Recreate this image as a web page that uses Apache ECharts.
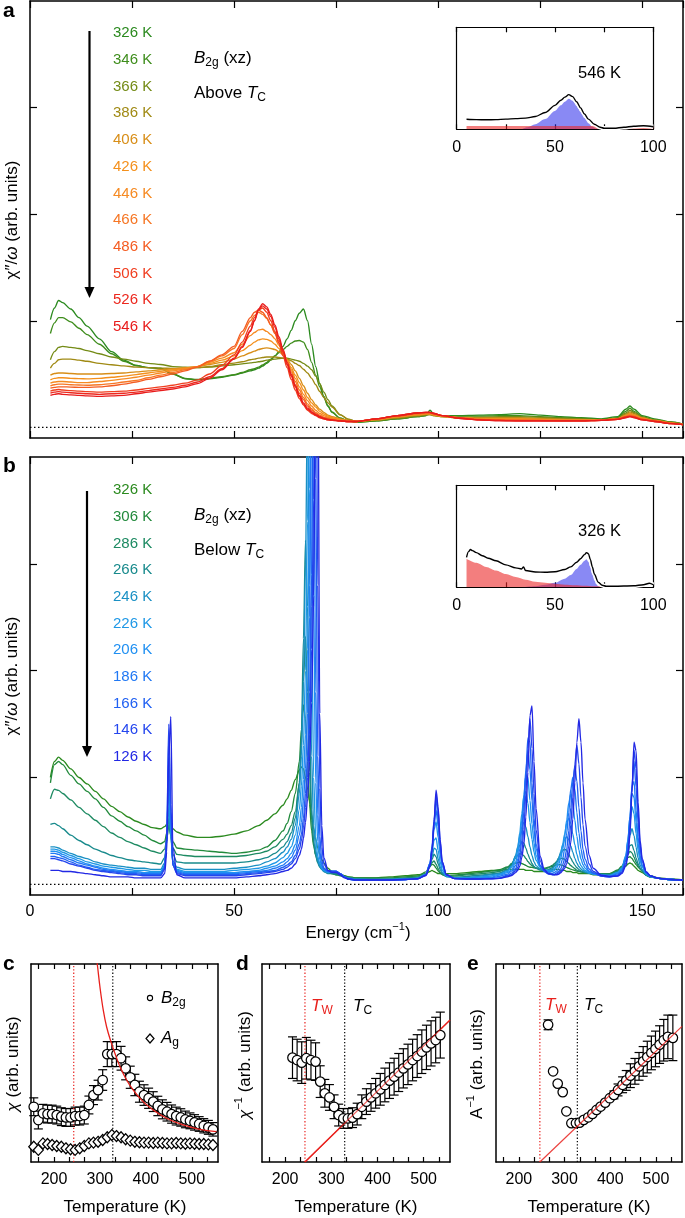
<!DOCTYPE html>
<html><head><meta charset="utf-8">
<script src="https://cdn.jsdelivr.net/npm/echarts@6/dist/echarts.min.js"></script>
<style>html,body{margin:0;padding:0;background:#fff}#c{width:685px;height:1218px}</style>
</head><body><div id="c"></div>
<script>
// ---------------- DATA ----------------
const tempsA = [326,346,366,386,406,426,446,466,486,506,526,546];
const colorsA = ['#2b8a1f','#3e8d1c','#748b16','#a08a14','#d88e18','#f4901c','#f68a22','#f67624','#f45c22','#f03e20','#ec281e','#e81c1c'];
const energyA = [5,6,7,8,10,12,14,17,20,23,26,29,32,35,38,41,44,47,50,
 52,54,55,56,57,58,59,60,61,62,63,64,65,66,67,68,69,70,71,72,73,74,76,78,
 80,85,90,95,97,98,99,101,105,110,115,120,125,130,135,140,144,146,147,148,150,153,157,160];
const a326 = [1.01,1.12,1.19,1.17,1.11,1.03,0.95,0.83,0.71,0.63,0.58,0.56,0.555,0.50,0.455,0.445,0.455,0.47,0.49,
 0.51,0.53,0.54,0.555,0.575,0.60,0.63,0.67,0.71,0.76,0.83,0.91,1.00,1.07,1.11,1.00,0.78,0.57,0.41,0.29,0.20,0.14,0.085,0.06,
 0.05,0.06,0.08,0.10,0.11,0.16,0.12,0.11,0.11,0.115,0.12,0.128,0.115,0.10,0.09,0.08,0.10,0.17,0.20,0.17,0.11,0.08,0.05,0.03];
const a346 = [0.88,0.98,1.03,1.03,0.99,0.93,0.87,0.78,0.69,0.62,0.58,0.56,0.55,0.50,0.46,0.45,0.46,0.475,0.495,
 0.515,0.54,0.55,0.565,0.585,0.61,0.64,0.67,0.70,0.73,0.76,0.79,0.81,0.815,0.80,0.73,0.61,0.49,0.38,0.28,0.20,0.145,0.085,0.06,
 0.05,0.06,0.08,0.10,0.11,0.14,0.115,0.105,0.105,0.105,0.11,0.11,0.10,0.09,0.085,0.075,0.09,0.15,0.18,0.15,0.10,0.07,0.05,0.03];
const a366 = [0.634,0.71,0.75,0.76,0.75,0.74,0.72,0.69,0.66,0.64,0.62,0.60,0.59,0.57,0.565,0.56,0.565,0.577,0.587,
 0.596,0.605,0.61,0.615,0.62,0.63,0.634,0.64,0.646,0.65,0.648,0.64,0.63,0.62,0.60,0.575,0.54,0.48,0.41,0.33,0.26,0.20,0.12,0.075,
 0.055,0.065,0.085,0.105,0.115,0.12,0.11,0.10,0.095,0.095,0.10,0.10,0.095,0.085,0.08,0.07,0.085,0.135,0.16,0.14,0.095,0.07,0.045,0.03];
const a386 = [0.556,0.60,0.634,0.64,0.64,0.63,0.62,0.60,0.587,0.577,0.565,0.56,0.556,0.553,0.553,0.56,0.571,0.587,0.603,
 0.615,0.634,0.64,0.65,0.655,0.66,0.66,0.66,0.655,0.65,0.64,0.625,0.60,0.58,0.545,0.51,0.46,0.40,0.336,0.28,0.23,0.19,0.117,0.076,
 0.055,0.07,0.09,0.11,0.12,0.12,0.11,0.10,0.09,0.09,0.09,0.09,0.085,0.08,0.075,0.07,0.08,0.125,0.145,0.13,0.09,0.065,0.045,0.03];
const a406 = [0.49,0.505,0.51,0.51,0.505,0.50,0.50,0.50,0.505,0.51,0.52,0.53,0.54,0.55,0.56,0.57,0.59,0.61,0.64,
 0.67,0.70,0.715,0.73,0.74,0.745,0.74,0.73,0.71,0.68,0.64,0.59,0.53,0.46,0.39,0.32,0.26,0.21,0.17,0.14,0.115,0.10,0.08,0.065,
 0.055,0.07,0.095,0.115,0.125,0.125,0.115,0.10,0.09,0.085,0.085,0.085,0.08,0.075,0.07,0.07,0.08,0.115,0.135,0.12,0.085,0.065,0.04,0.025];
const a426 = [0.446,0.46,0.465,0.465,0.46,0.457,0.455,0.46,0.47,0.48,0.495,0.51,0.525,0.54,0.555,0.57,0.60,0.63,0.67,
 0.72,0.77,0.80,0.82,0.83,0.825,0.81,0.78,0.74,0.69,0.63,0.56,0.49,0.42,0.35,0.28,0.23,0.19,0.15,0.125,0.105,0.09,0.075,0.06,
 0.055,0.075,0.10,0.12,0.13,0.13,0.12,0.105,0.09,0.08,0.08,0.08,0.075,0.07,0.07,0.07,0.08,0.11,0.125,0.115,0.085,0.06,0.04,0.025];
const a446 = [0.415,0.425,0.43,0.43,0.425,0.42,0.42,0.43,0.44,0.455,0.47,0.49,0.51,0.53,0.55,0.57,0.61,0.65,0.70,
 0.78,0.86,0.89,0.915,0.92,0.90,0.87,0.83,0.77,0.70,0.62,0.54,0.46,0.38,0.31,0.25,0.20,0.16,0.13,0.11,0.095,0.085,0.07,0.06,
 0.055,0.075,0.10,0.125,0.13,0.13,0.12,0.105,0.09,0.08,0.075,0.075,0.07,0.07,0.065,0.07,0.08,0.105,0.12,0.11,0.08,0.06,0.04,0.025];
const a466 = [0.39,0.40,0.405,0.405,0.40,0.397,0.395,0.40,0.41,0.425,0.44,0.465,0.49,0.515,0.54,0.57,0.62,0.67,0.74,
 0.87,1.00,1.05,1.08,1.06,1.02,0.96,0.89,0.81,0.72,0.62,0.52,0.43,0.35,0.28,0.22,0.175,0.14,0.115,0.095,0.085,0.075,0.065,0.055,
 0.055,0.08,0.105,0.13,0.135,0.135,0.125,0.11,0.09,0.075,0.07,0.07,0.065,0.065,0.065,0.07,0.08,0.10,0.115,0.105,0.08,0.06,0.04,0.025];
const a486 = [0.368,0.375,0.38,0.38,0.378,0.375,0.375,0.38,0.39,0.405,0.425,0.45,0.475,0.50,0.53,0.565,0.62,0.68,0.76,
 0.90,1.03,1.08,1.10,1.08,1.03,0.96,0.88,0.79,0.69,0.59,0.49,0.40,0.32,0.26,0.20,0.16,0.13,0.105,0.09,0.08,0.07,0.06,0.055,
 0.055,0.08,0.105,0.13,0.135,0.135,0.125,0.11,0.09,0.075,0.07,0.065,0.065,0.06,0.06,0.065,0.08,0.10,0.11,0.10,0.075,0.06,0.04,0.025];
const a506 = [0.34,0.35,0.355,0.35,0.345,0.34,0.335,0.33,0.335,0.34,0.35,0.365,0.38,0.395,0.415,0.445,0.50,0.58,0.68,
 0.80,0.95,1.03,1.10,1.12,1.08,1.00,0.90,0.79,0.67,0.56,0.45,0.35,0.27,0.21,0.16,0.13,0.11,0.09,0.08,0.07,0.065,0.06,0.055,
 0.055,0.08,0.11,0.135,0.14,0.14,0.13,0.11,0.085,0.07,0.065,0.06,0.06,0.06,0.06,0.065,0.075,0.095,0.105,0.095,0.075,0.055,0.035,0.025];
const a526 = [0.32,0.33,0.335,0.33,0.325,0.32,0.315,0.31,0.315,0.32,0.33,0.345,0.36,0.375,0.395,0.425,0.475,0.55,0.65,
 0.76,0.91,1.00,1.10,1.14,1.11,1.04,0.94,0.83,0.71,0.59,0.48,0.38,0.29,0.22,0.17,0.14,0.115,0.095,0.08,0.07,0.065,0.06,0.055,
 0.055,0.08,0.11,0.135,0.14,0.14,0.13,0.11,0.085,0.07,0.065,0.06,0.06,0.06,0.06,0.065,0.075,0.095,0.10,0.095,0.07,0.055,0.035,0.025];
const a546 = [0.30,0.31,0.315,0.31,0.305,0.30,0.295,0.29,0.295,0.30,0.315,0.33,0.345,0.36,0.38,0.41,0.46,0.54,0.64,
 0.75,0.90,1.00,1.11,1.16,1.13,1.06,0.96,0.85,0.73,0.61,0.50,0.39,0.30,0.23,0.18,0.145,0.12,0.10,0.085,0.075,0.07,0.06,0.055,
 0.055,0.08,0.11,0.135,0.14,0.14,0.13,0.11,0.085,0.07,0.06,0.06,0.06,0.06,0.06,0.065,0.075,0.09,0.10,0.09,0.07,0.055,0.035,0.025];

const tempsB = [326,306,286,266,246,226,206,186,166,146,126];
const colorsB = ['#2b8a1f','#228a3c','#1d8a62','#188a8c','#1a90c4','#1f98e6','#2090f2','#2078f4','#2060f2','#2446ee','#2228e4'];
const energyB = [5,6,7,8,10,12,14,16,18,20,22,24,26,28,30,32,
 33,33.5,34,34.5,35,36,
 38,41,44,47,50,53,56,58,60,62,
 63,64,65,66,66.5,67,67.5,68,68.5,69,69.5,70,70.5,71,71.5,72,73,74,75,76,77,78,
 80,84,88,92,95,97,
 98,98.5,99,99.5,100,100.5,101,102,
 104,107,110,113,115,117,
 118,119,119.5,120,120.5,121,121.5,122,122.5,123,123.5,124,125,126,
 127,128,128.5,129,129.5,130,130.5,131,131.5,132,132.5,133,133.5,134,134.5,135,135.5,136,137,138,
 140,142,144,145,
 146,146.5,147,147.5,148,148.5,149,149.5,150,
 151,152,154,157,160];
const b326 = [1.00,1.15,1.19,1.16,1.08,1.00,0.94,0.87,0.80,0.73,0.68,0.63,0.59,0.56,0.53,0.52,
 0.54,0.56,0.57,0.56,0.52,0.49,
 0.46,0.44,0.44,0.45,0.47,0.50,0.55,0.60,0.66,0.74,
 0.80,0.88,0.98,1.07,1.10,1.08,1.00,0.90,0.78,0.65,0.52,0.42,0.34,0.28,0.23,0.20,0.15,0.12,0.10,0.09,0.08,0.07,
 0.06,0.06,0.07,0.08,0.09,0.10,
 0.12,0.13,0.12,0.11,0.10,0.10,0.10,0.10,
 0.10,0.11,0.12,0.13,0.13,0.14,
 0.14,0.14,0.14,0.14,0.14,0.14,0.13,0.13,0.13,0.13,0.12,0.12,0.12,0.12,
 0.13,0.14,0.14,0.14,0.14,0.13,0.13,0.13,0.12,0.12,0.12,0.11,0.11,0.11,0.10,0.10,0.10,0.10,0.10,0.09,
 0.09,0.10,0.12,0.14,
 0.17,0.19,0.20,0.19,0.17,0.15,0.13,0.12,0.11,
 0.09,0.08,0.06,0.05,0.04];
const b306 = [0.95,1.12,1.15,1.12,1.02,0.94,0.87,0.80,0.72,0.64,0.59,0.54,0.50,0.46,0.41,0.38,
 0.40,0.48,0.55,0.50,0.40,0.34,
 0.33,0.32,0.31,0.30,0.29,0.30,0.32,0.35,0.41,0.50,
 0.57,0.68,0.85,1.15,1.45,1.68,1.55,1.15,0.75,0.50,0.36,0.28,0.23,0.19,0.17,0.15,0.12,0.10,0.09,0.09,0.08,0.07,
 0.06,0.06,0.06,0.07,0.078,0.116,
 0.168,0.189,0.179,0.152,0.125,0.104,0.092,0.08,
 0.086,0.097,0.11,0.123,0.136,0.162,
 0.183,0.2,0.205,0.203,0.195,0.187,0.177,0.166,0.16,0.159,0.155,0.15,0.147,0.15,
 0.16,0.168,0.177,0.182,0.185,0.182,0.177,0.168,0.158,0.15,0.142,0.135,0.129,0.123,0.119,0.116,0.113,0.111,0.108,0.105,
 0.1,0.1,0.134,0.17,
 0.225,0.251,0.258,0.242,0.213,0.185,0.162,0.142,0.125,
 0.085,0.07,0.055,0.045,0.04];
const b286 = [0.80,0.89,0.88,0.85,0.79,0.72,0.66,0.60,0.54,0.48,0.44,0.40,0.37,0.34,0.31,0.29,
 0.33,0.42,0.55,0.46,0.34,0.28,
 0.27,0.26,0.26,0.26,0.26,0.27,0.29,0.31,0.35,0.42,
 0.47,0.55,0.68,0.95,1.30,1.90,2.32,1.80,1.05,0.60,0.38,0.27,0.21,0.17,0.15,0.13,0.11,0.10,0.09,0.08,0.07,0.06,
 0.05,0.05,0.05,0.06,0.068,0.099,
 0.162,0.204,0.218,0.188,0.146,0.114,0.092,0.074,
 0.077,0.088,0.098,0.109,0.121,0.155,
 0.195,0.246,0.271,0.286,0.284,0.267,0.242,0.214,0.191,0.176,0.161,0.153,0.143,0.143,
 0.155,0.178,0.193,0.21,0.23,0.242,0.243,0.233,0.215,0.195,0.176,0.161,0.146,0.133,0.125,0.118,0.114,0.111,0.105,0.102,
 0.097,0.095,0.125,0.162,
 0.237,0.28,0.308,0.295,0.254,0.21,0.172,0.147,0.125,
 0.085,0.07,0.055,0.045,0.04];
const b266 = [0.56,0.57,0.55,0.52,0.46,0.41,0.37,0.33,0.30,0.27,0.25,0.23,0.22,0.21,0.20,0.19,
 0.25,0.40,0.62,0.45,0.28,0.21,
 0.20,0.20,0.20,0.20,0.20,0.21,0.23,0.25,0.29,0.35,
 0.40,0.48,0.62,0.95,1.40,2.30,3.22,2.60,1.40,0.70,0.40,0.27,0.20,0.16,0.14,0.12,0.10,0.10,0.10,0.09,0.07,0.06,
 0.05,0.045,0.045,0.055,0.063,0.094,
 0.17,0.232,0.283,0.257,0.193,0.138,0.103,0.073,
 0.065,0.075,0.085,0.097,0.106,0.137,
 0.183,0.264,0.318,0.366,0.397,0.385,0.338,0.282,0.236,0.195,0.168,0.15,0.134,0.129,
 0.138,0.155,0.179,0.21,0.244,0.282,0.316,0.33,0.316,0.282,0.244,0.21,0.179,0.155,0.138,0.126,0.119,0.112,0.103,0.1,
 0.093,0.09,0.116,0.148,
 0.235,0.302,0.364,0.371,0.316,0.247,0.19,0.152,0.125,
 0.085,0.07,0.055,0.045,0.04];
const b246 = [0.35,0.35,0.34,0.32,0.29,0.26,0.24,0.21,0.19,0.18,0.17,0.16,0.15,0.15,0.14,0.14,
 0.20,0.40,0.72,0.45,0.22,0.16,
 0.14,0.14,0.14,0.14,0.15,0.16,0.18,0.21,0.24,0.30,
 0.35,0.42,0.55,0.85,1.20,1.90,3.00,4.60,2.80,1.20,0.55,0.32,0.22,0.17,0.14,0.12,0.11,0.12,0.12,0.10,0.07,0.06,
 0.05,0.045,0.045,0.05,0.058,0.092,
 0.179,0.257,0.338,0.326,0.239,0.164,0.113,0.073,
 0.06,0.065,0.075,0.09,0.1,0.13,
 0.17,0.27,0.35,0.445,0.535,0.58,0.535,0.445,0.35,0.27,0.21,0.175,0.143,0.13,
 0.132,0.143,0.164,0.197,0.243,0.3,0.36,0.42,0.445,0.42,0.36,0.3,0.243,0.197,0.164,0.143,0.13,0.117,0.104,0.098,
 0.09,0.085,0.111,0.146,
 0.246,0.346,0.455,0.52,0.455,0.346,0.246,0.181,0.14,
 0.09,0.07,0.055,0.045,0.04];
const b226 = [0.33,0.33,0.32,0.30,0.27,0.24,0.21,0.19,0.17,0.16,0.15,0.14,0.13,0.13,0.12,0.12,
 0.18,0.40,0.88,0.50,0.20,0.14,
 0.12,0.12,0.12,0.12,0.13,0.14,0.15,0.17,0.20,0.25,
 0.29,0.35,0.46,0.70,0.92,1.30,2.00,3.40,5.20,2.60,1.00,0.45,0.26,0.19,0.15,0.13,0.11,0.12,0.12,0.10,0.07,0.05,
 0.04,0.04,0.045,0.05,0.058,0.096,
 0.19,0.294,0.414,0.434,0.318,0.21,0.134,0.08,
 0.058,0.06,0.068,0.078,0.093,0.12,
 0.16,0.25,0.34,0.48,0.66,0.82,0.87,0.76,0.58,0.42,0.3,0.225,0.16,0.137,
 0.127,0.13,0.145,0.17,0.21,0.28,0.37,0.47,0.57,0.62,0.57,0.47,0.37,0.28,0.215,0.175,0.148,0.129,0.107,0.097,
 0.086,0.08,0.111,0.153,
 0.271,0.41,0.588,0.727,0.661,0.476,0.318,0.219,0.163,
 0.1,0.075,0.055,0.045,0.04];
const b206 = [0.31,0.31,0.30,0.28,0.25,0.22,0.19,0.17,0.15,0.14,0.13,0.12,0.12,0.11,0.11,0.11,
 0.17,0.42,1.02,0.55,0.19,0.13,
 0.11,0.11,0.11,0.11,0.11,0.12,0.13,0.15,0.17,0.21,
 0.24,0.29,0.37,0.55,0.72,0.98,1.40,2.20,3.70,5.80,2.60,0.95,0.40,0.23,0.16,0.14,0.12,0.12,0.12,0.10,0.07,0.05,
 0.04,0.04,0.04,0.045,0.054,0.093,
 0.199,0.335,0.512,0.584,0.441,0.276,0.166,0.084,
 0.053,0.055,0.06,0.068,0.086,0.11,
 0.135,0.21,0.285,0.415,0.6,0.835,1.02,1.0,0.785,0.565,0.385,0.27,0.165,0.134,
 0.12,0.12,0.13,0.152,0.183,0.237,0.32,0.45,0.6,0.76,0.845,0.76,0.6,0.45,0.32,0.237,0.183,0.152,0.115,0.098,
 0.082,0.078,0.107,0.143,
 0.264,0.421,0.63,0.848,0.815,0.582,0.381,0.244,0.17,
 0.1,0.075,0.055,0.045,0.04];
const b186 = [0.29,0.29,0.28,0.26,0.23,0.20,0.18,0.16,0.14,0.13,0.12,0.11,0.11,0.10,0.10,0.10,
 0.16,0.42,1.16,0.60,0.18,0.12,
 0.10,0.10,0.10,0.10,0.10,0.11,0.12,0.13,0.15,0.18,
 0.21,0.25,0.32,0.46,0.58,0.78,1.08,1.60,2.50,4.60,5.00,1.80,0.65,0.30,0.18,0.14,0.12,0.12,0.12,0.10,0.07,0.05,
 0.04,0.04,0.04,0.045,0.052,0.089,
 0.188,0.331,0.545,0.695,0.545,0.331,0.188,0.089,
 0.055,0.053,0.055,0.06,0.075,0.096,
 0.123,0.176,0.235,0.33,0.51,0.78,1.07,1.25,1.07,0.78,0.51,0.33,0.176,0.123,
 0.113,0.102,0.112,0.123,0.147,0.184,0.237,0.33,0.48,0.67,0.89,1.0,0.89,0.67,0.48,0.33,0.237,0.184,0.123,0.102,
 0.08,0.074,0.098,0.13,
 0.247,0.396,0.637,0.916,0.963,0.693,0.442,0.265,0.18,
 0.105,0.075,0.055,0.045,0.04];
const b166 = [0.26,0.26,0.25,0.24,0.21,0.18,0.16,0.14,0.13,0.12,0.11,0.10,0.10,0.09,0.09,0.09,
 0.15,0.45,1.38,0.68,0.18,0.11,
 0.09,0.09,0.09,0.09,0.09,0.10,0.11,0.12,0.13,0.16,
 0.18,0.21,0.27,0.38,0.47,0.62,0.85,1.20,1.80,2.90,5.50,3.80,1.20,0.45,0.22,0.15,0.12,0.12,0.12,0.10,0.07,0.05,
 0.04,0.04,0.04,0.045,0.053,0.089,
 0.195,0.355,0.605,0.795,0.605,0.355,0.195,0.089,
 0.055,0.052,0.052,0.055,0.06,0.085,
 0.105,0.146,0.2,0.27,0.41,0.68,1.04,1.37,1.33,0.95,0.62,0.375,0.18,0.12,
 0.097,0.09,0.094,0.107,0.12,0.143,0.184,0.236,0.324,0.5,0.717,0.965,1.10,0.965,0.717,0.5,0.324,0.236,0.143,0.107,
 0.077,0.07,0.089,0.119,
 0.217,0.331,0.58,0.911,1.15,0.911,0.58,0.331,0.21,
 0.11,0.079,0.055,0.045,0.04];
const b146 = [0.24,0.24,0.23,0.22,0.19,0.17,0.15,0.13,0.12,0.11,0.10,0.09,0.09,0.08,0.08,0.08,
 0.14,0.45,1.50,0.75,0.18,0.10,
 0.08,0.08,0.08,0.08,0.08,0.09,0.10,0.11,0.12,0.14,
 0.16,0.19,0.24,0.33,0.41,0.53,0.72,1.00,1.45,2.20,3.60,6.50,2.80,0.90,0.35,0.19,0.13,0.12,0.12,0.10,0.07,0.05,
 0.04,0.04,0.04,0.045,0.052,0.083,
 0.167,0.304,0.563,0.843,0.693,0.401,0.207,0.09,
 0.053,0.05,0.05,0.052,0.056,0.076,
 0.09,0.127,0.157,0.22,0.31,0.51,0.85,1.27,1.55,1.27,0.85,0.51,0.22,0.127,
 0.1,0.092,0.09,0.095,0.106,0.122,0.142,0.19,0.246,0.358,0.556,0.816,1.126,1.30,1.126,0.816,0.556,0.358,0.19,0.122,
 0.077,0.068,0.08,0.111,
 0.194,0.298,0.536,0.902,1.256,1.085,0.67,0.365,0.225,
 0.116,0.079,0.056,0.045,0.04];
const b126 = [0.13,0.13,0.13,0.12,0.12,0.11,0.10,0.09,0.08,0.07,0.07,0.07,0.06,0.06,0.06,0.06,
 0.10,0.30,1.20,1.57,0.35,0.09,
 0.06,0.06,0.06,0.06,0.06,0.07,0.08,0.09,0.10,0.12,
 0.13,0.15,0.19,0.27,0.33,0.43,0.58,0.80,1.15,1.70,2.70,5.00,5.50,1.60,0.55,0.25,0.13,0.11,0.11,0.09,0.06,0.05,
 0.04,0.04,0.04,0.045,0.052,0.085,
 0.173,0.317,0.589,0.882,0.725,0.419,0.215,0.092,
 0.053,0.05,0.05,0.052,0.055,0.07,
 0.083,0.11,0.13,0.17,0.25,0.37,0.63,1.05,1.58,1.67,1.15,0.71,0.26,0.14,
 0.1,0.093,0.09,0.09,0.094,0.108,0.127,0.15,0.194,0.27,0.39,0.61,0.95,1.33,1.55,1.33,0.95,0.61,0.27,0.15,
 0.085,0.075,0.076,0.1,
 0.174,0.26,0.46,0.86,1.33,1.25,0.77,0.41,0.24,
 0.115,0.079,0.057,0.045,0.04];

// insets
const insA_E = [5,10,15,20,25,30,35,40,45,50,53,55,57,59,61,63,65,67,70,73,75,80,85,90,95,100];
const insA_total = [0.098,0.095,0.093,0.095,0.10,0.105,0.11,0.125,0.165,0.235,0.285,0.315,0.34,0.32,0.27,0.21,0.15,0.10,0.05,0.02,0.01,0.01,0.02,0.03,0.035,0.025];
const insA_blueE = [33,36,40,45,50,53,55,57,59,61,63,65,67,69,71,72];
const insA_blue = [0,0.02,0.05,0.10,0.18,0.235,0.27,0.30,0.28,0.23,0.17,0.11,0.06,0.025,0.005,0];
const insA_redE = [5,100];
const insA_red = [0.032,0.032];
const insB_E = [5,6,7,8,10,13,16,20,25,30,33,34,35,40,45,50,55,58,61,63,65,66,67,68,69,70,72,74,76,80,90,95,98,100];
const insB_total = [0.294,0.35,0.37,0.36,0.34,0.31,0.285,0.26,0.22,0.19,0.18,0.20,0.165,0.15,0.148,0.152,0.175,0.20,0.245,0.28,0.32,0.34,0.33,0.27,0.20,0.13,0.05,0.02,0.01,0.01,0.015,0.025,0.04,0.025];
const insB_redE = [5,10,15,20,25,30,35,40,45,50,55,60,65,70,80,100];
const insB_red = [0.28,0.24,0.20,0.165,0.13,0.10,0.075,0.055,0.045,0.035,0.025,0.02,0.015,0.01,0.005,0.002];
const insB_blueE = [33,40,45,50,55,58,61,63,65,66,67,68,69,70,71,72,73];
const insB_blue = [0,0.01,0.025,0.045,0.085,0.12,0.18,0.22,0.26,0.275,0.25,0.20,0.13,0.07,0.03,0.01,0];

// panel c
const cTemps = [156,166,176,186,196,206,216,226,236,246,256,266,276,286,296,306,316,326,336,346,356,366,376,386,396,406,416,426,436,446,456,466,476,486,496,506,516,526,536,546];
const cB2g = [27.9,21.2,24.6,24.2,24.2,23.7,22.9,22.5,22.5,23.2,23.2,23.7,28.8,33.8,36.3,41.4,54.5,54.5,54.5,52.4,47.3,42.8,38.9,35.5,33.8,32.2,30.5,28.3,26.6,25.4,24.2,23.2,22.5,21.5,20.8,20.0,19.2,18.3,17.5,16.5];
const cB2gErr = [4.5,4.5,4.5,4.5,4.5,4.5,4.5,4.5,4.5,4.5,4.5,4.5,4.5,4.8,5,5.2,6.3,6.3,6.3,6,5.8,5.6,5.4,5.3,5.2,5.1,5,4.9,4.8,4.7,4.6,4.5,4.4,4.2,4.0,3.9,3.7,3.6,3.5,3.4];
const cAg = [7.7,6.1,9.4,9.1,8.6,8.1,7.7,6.9,6.4,6.1,6.9,8.1,9.4,9.8,10.2,11.1,12.5,13.6,13.1,12.5,11.5,10.8,10.2,10.0,9.8,9.8,9.6,9.8,9.6,9.4,9.4,9.6,9.4,9.2,9.4,9.2,9.1,9.1,8.9,8.6];
const cFitT = [292,294.2,300,307.2,314.5,323.9,332.6,343.5,358,372.4,394.1,415.9,445,481,517.4,553.7];
const cFitV = [103,100,88.5,76.8,68.3,60.8,54.9,48.2,41.4,36.4,30.5,26.3,22.1,18.7,16.5,15.3];
// panel d
const dTemps = [216,226,236,246,256,266,276,286,296,306,316,326,336,346,356,366,376,386,396,406,416,426,436,446,456,466,476,486,496,506,516,526,536];
const dVals = [52.7,51.5,50.2,52.4,51.5,50.7,40.6,34.7,32.6,27.9,23.7,22.0,22.0,22.4,24.2,27.9,30.5,32.6,34.7,36.7,38.9,41.1,43.1,45.2,47.3,49.3,51.5,53.5,55.7,57.9,59.9,61.6,64.1];
const dErr = [10.5,10.5,10.5,10.5,10,9.5,8,7,6.5,6,5.5,5,5,5,5.5,6,6.5,7,7.5,8,8.5,9,9.3,9.6,9.9,10.2,10.5,10.8,11,11.2,11.4,11.5,11.6];
const dFitT = [243,557];
const dFitV = [0,71.7];
// panel e
const eTemps = [264,275,285,296,304,315,325,333,342,352,361,370,379,389,399,408,417,427,435,444,454,463,472,481,490,499,508,517,526,537];
const eVals = [69.3,45.8,39.6,35.3,25.6,19.6,19.6,19.9,21.3,22.6,24.3,26.3,28.0,30.0,32.2,33.9,36.4,39.0,41.2,43.6,45.8,48.3,50.8,53.0,55.1,57.1,59.3,61.5,63.2,62.7];
const eErr = [2.5,0,0,0,0,0,0,0,0,0,0,0,0,0,0,2,3,4,5,6,6.5,7,7.5,8,8.5,9,9.5,10.5,11,11.5];
const eXErr = [5,0,0,0,0,0,0,0,0,0,0,0,0,0,0,0,0,0,0,0,0,0,0,0,0,0,0,0,0,0];
const eFitT = [246,557];
const eFitV = [0,68.5];
const tW = [243,243,246];
const tC = [328,329,328];

// ---------------- CHART ----------------
const FF = "'Liberation Sans', Arial, Helvetica, sans-serif";
const chart = echarts.init(document.getElementById('c'), null, {renderer:'canvas'});
const mctx = document.createElement('canvas').getContext('2d');
function tw(t, f){ mctx.font = f; return mctx.measureText(t).width; }
function runs(x, y, parts, anchor){
  const fonts = parts.map(p => (p[2]==='i'?'italic ':'') + (p[2]==='b'?'bold ':'') + p[1] + 'px ' + FF);
  const ws = parts.map((p,i)=>tw(p[0], fonts[i]));
  const tot = ws.reduce((a,b)=>a+b,0);
  let cx = anchor==='center' ? x - tot/2 : x;
  return parts.map((p,i)=>{
    const el = {type:'text', x:cx, y:y+(p[3]||0), silent:true,
      style:{text:p[0], font:fonts[i], fill:p[4]||'#000', textAlign:'left', textVerticalAlign:'middle', align:'left', verticalAlign:'middle'}};
    cx += ws[i]; return el;
  });
}
function rot(cx, cy, parts){ return {type:'group', x:cx, y:cy, rotation:Math.PI/2, children:runs(0,0,parts,'center')}; }

const grids = [
  {left:30, top:1, width:653, height:437},
  {left:456.7, top:27.3, width:196.6, height:102},
  {left:30, top:457, width:653, height:438},
  {left:456.7, top:485.3, width:196.6, height:102},
  {left:31, top:964, width:187, height:198},
  {left:262, top:964, width:188, height:198},
  {left:496, top:964, width:186, height:198}
].map(g=>Object.assign(g,{containLabel:false, outerBoundsMode:'none'}));

const xAxes = [], yAxes = [];
function ax(grid, pos, min, max, o){
  return Object.assign({
    type:'value', gridIndex:grid, position:pos, min:min, max:max,
    axisLine:{show:true, onZero:false, lineStyle:{color:'#000', width:o.lw||1.5}},
    axisTick:Object.assign({show:!!o.tick, inside:true, length:o.tl||7, lineStyle:{color:'#000', width:1.2}}, o.tick||{}),
    axisLabel:Object.assign({show:false, color:'#000', fontSize:o.fs||16, fontFamily:FF, margin:o.margin||9}, o.label||{}),
    splitLine:{show:false}, axisPointer:{show:false}, silent:true
  }, o.extra||{});
}
const fmt50 = v => (Math.abs(v % 50) < 1e-6 ? String(v) : '');
const tickTemps = [166.667,200,233.333,266.667,300,333.333,366.667,400,433.333,466.667,500,533.333];
xAxes.push(ax(0,'bottom',0,160,{tick:{}, extra:{interval:25}}));
xAxes.push(ax(0,'top',0,160,{tick:{}, extra:{interval:25}}));
yAxes.push(ax(0,'left',-0.1,4,{tick:{customValues:[1,2,3]}}));
yAxes.push(ax(0,'right',-0.1,4,{tick:{customValues:[1,2,3]}}));
xAxes.push(ax(1,'bottom',0,100,{lw:1.2, tl:5, tick:{}, label:{show:true, formatter:fmt50, fontSize:16}, margin:10, extra:{interval:25}}));
xAxes.push(ax(1,'top',0,100,{lw:1.2, tl:5, tick:{}, extra:{interval:25}}));
yAxes.push(ax(1,'left',0,1,{lw:1.2}));
yAxes.push(ax(1,'right',0,1,{lw:1.2}));
xAxes.push(ax(2,'bottom',0,160,{tick:{}, label:{show:true, formatter:fmt50, fontSize:16}, margin:9, extra:{interval:25}}));
xAxes.push(ax(2,'top',0,160,{tick:{}, extra:{interval:25}}));
yAxes.push(ax(2,'left',-0.1,4,{tick:{customValues:[1,2,3]}}));
yAxes.push(ax(2,'right',-0.1,4,{tick:{customValues:[1,2,3]}}));
xAxes.push(ax(3,'bottom',0,100,{lw:1.2, tl:5, tick:{}, label:{show:true, formatter:fmt50, fontSize:16}, margin:10, extra:{interval:25}}));
xAxes.push(ax(3,'top',0,100,{lw:1.2, tl:5, tick:{}, extra:{interval:25}}));
yAxes.push(ax(3,'left',0,1,{lw:1.2}));
yAxes.push(ax(3,'right',0,1,{lw:1.2}));
for (let g=4; g<=6; g++){
  xAxes.push(ax(g,'bottom',150,557,{tl:5, tick:{customValues:tickTemps}, label:{show:true, customValues:[200,300,400,500], fontSize:16}, margin:10}));
  xAxes.push(ax(g,'top',150,557,{tl:5, tick:{customValues:tickTemps}}));
  yAxes.push(ax(g,'left',0,100,{}));
  yAxes.push(ax(g,'right',0,100,{}));
}

const series = [];
const pair = (X,Y) => X.map((x,i)=>[x,Y[i]]);
const specA = [a326,a346,a366,a386,a406,a426,a446,a466,a486,a506,a526,a546];
specA.forEach((arr,i)=>series.push({type:'line', xAxisIndex:0, yAxisIndex:0, data:pair(energyA,arr), symbol:'none', smooth:0.3, smoothMonotone:'x', clip:true, silent:true, lineStyle:{color:colorsA[i], width:1.35}}));
series.push({type:'line', xAxisIndex:0, yAxisIndex:0, data:[[0,0],[160,0]], symbol:'none', silent:true, lineStyle:{color:'#000', width:1.3, type:[1.5,2.5]}});
const specB = [b326,b306,b286,b266,b246,b226,b206,b186,b166,b146,b126];
specB.forEach((arr,i)=>series.push({type:'line', xAxisIndex:4, yAxisIndex:4, data:pair(energyB,arr), symbol:'none', smooth:0.3, smoothMonotone:'x', clip:true, silent:true, lineStyle:{color:colorsB[i], width:1.35}}));
series.push({type:'line', xAxisIndex:4, yAxisIndex:4, data:[[0,0],[160,0]], symbol:'none', silent:true, lineStyle:{color:'#000', width:1.3, type:[1.5,2.5]}});
function area(xi, yi, X, Y, col){ return {type:'line', xAxisIndex:xi, yAxisIndex:yi, data:pair(X,Y), symbol:'none', smooth:0.3, smoothMonotone:'x', silent:true, lineStyle:{width:0}, areaStyle:{color:col, opacity:1}}; }
const BLUE = 'rgba(40,40,235,0.55)', RED = 'rgba(235,40,40,0.6)';
function blackLine(xi, yi, X, Y){
  series.push({type:'line', xAxisIndex:xi, yAxisIndex:yi, data:pair(X,Y), symbol:'none', smooth:0.3, smoothMonotone:'x', silent:true, lineStyle:{color:'#fff', width:4.5}});
  series.push({type:'line', xAxisIndex:xi, yAxisIndex:yi, data:pair(X,Y), symbol:'none', smooth:0.3, smoothMonotone:'x', silent:true, lineStyle:{color:'#000', width:1.4}});
}
series.push(area(2,2,insA_blueE,insA_blue,BLUE));
series.push(area(2,2,insA_redE,insA_red,RED));
blackLine(2,2,insA_E,insA_total);
series.push(area(6,6,insB_blueE,insB_blue,BLUE));
series.push(area(6,6,insB_redE,insB_red,RED));
blackLine(6,6,insB_E,insB_total);

function vline(xi, yi, t, col){ return {type:'line', xAxisIndex:xi, yAxisIndex:yi, data:[[t,0],[t,100]], symbol:'none', silent:true, lineStyle:{color:col, width:1.2, type:[1.3,2]}}; }
function errS(xi, yi, T, V, E, XE){
  return {type:'custom', xAxisIndex:xi, yAxisIndex:yi, silent:true, z:3,
    data:T.map((t,i)=>[t, V[i], E[i], XE?XE[i]:0]),
    renderItem:(params, api)=>{
      const x=api.value(0), y=api.value(1), e=api.value(2), xe=api.value(3);
      const st={stroke:'#000', lineWidth:1.2}; const ch=[]; const cap=4.5;
      if (e>0){
        const p1=api.coord([x,y-e]), p2=api.coord([x,y+e]);
        ch.push({type:'line', shape:{x1:p1[0],y1:p1[1],x2:p2[0],y2:p2[1]}, style:st});
        ch.push({type:'line', shape:{x1:p1[0]-cap,y1:p1[1],x2:p1[0]+cap,y2:p1[1]}, style:st});
        ch.push({type:'line', shape:{x1:p2[0]-cap,y1:p2[1],x2:p2[0]+cap,y2:p2[1]}, style:st});
      }
      if (xe>0){
        const q1=api.coord([x-xe,y]), q2=api.coord([x+xe,y]);
        ch.push({type:'line', shape:{x1:q1[0],y1:q1[1],x2:q2[0],y2:q2[1]}, style:st});
        ch.push({type:'line', shape:{x1:q1[0],y1:q1[1]-cap,x2:q1[0],y2:q1[1]+cap}, style:st});
        ch.push({type:'line', shape:{x1:q2[0],y1:q2[1]-cap,x2:q2[0],y2:q2[1]+cap}, style:st});
      }
      return {type:'group', children:ch};
    }};
}
function pts(xi, yi, T, V, sym, size){ return {type:'scatter', xAxisIndex:xi, yAxisIndex:yi, data:pair(T,V), symbol:sym, symbolSize:size, silent:true, z:4, itemStyle:{color:'#fff', borderColor:'#000', borderWidth:1.25, opacity:1}}; }
series.push(vline(8,8,tW[0],'#e8201c'));
series.push(vline(8,8,tC[0],'#000'));
series.push(errS(8,8,cTemps,cB2g,cB2gErr));
series.push(pts(8,8,cTemps,cAg,'diamond',[10,11]));
series.push(pts(8,8,cTemps,cB2g,'circle',9.5));
series.push({type:'line', xAxisIndex:8, yAxisIndex:8, data:pair(cFitT,cFitV), symbol:'none', smooth:0.4, clip:true, silent:true, z:5, lineStyle:{color:'#e8201c', width:1.3}});
series.push(vline(10,10,tW[1],'#e8201c'));
series.push(vline(10,10,tC[1],'#000'));
series.push({type:'line', xAxisIndex:10, yAxisIndex:10, data:pair(dFitT,dFitV), symbol:'none', clip:true, silent:true, z:2, lineStyle:{color:'#e8201c', width:1.3}});
series.push(errS(10,10,dTemps,dVals,dErr));
series.push(pts(10,10,dTemps,dVals,'circle',9.5));
series.push({type:'line', xAxisIndex:10, yAxisIndex:10, data:pair(dFitT,dFitV), symbol:'none', clip:true, silent:true, z:5, lineStyle:{color:'#e8201c', width:1.1, opacity:0.7}});
series.push(vline(12,12,tW[2],'#e8201c'));
series.push(vline(12,12,tC[2],'#000'));
series.push(errS(12,12,eTemps,eVals,eErr,eXErr));
series.push(pts(12,12,eTemps,eVals,'circle',9.5));
series.push({type:'line', xAxisIndex:12, yAxisIndex:12, data:pair(eFitT,eFitV), symbol:'none', clip:true, silent:true, z:5, lineStyle:{color:'#e8201c', width:1.2, opacity:0.85}});

const G = [];
const push = a => a.forEach(e=>G.push(e));
push(runs(3,11,[['a',21,'b']]));
push(runs(3,466,[['b',21,'b']]));
push(runs(3,964,[['c',21,'b']]));
push(runs(236,964,[['d',21,'b']]));
push(runs(467,964,[['e',21,'b']]));
tempsA.forEach((t,i)=>push(runs(113, 33+26.73*i, [[t+' K',15,'n',0,colorsA[i]]])));
tempsB.forEach((t,i)=>push(runs(113, 490+26.7*i, [[t+' K',15,'n',0,colorsB[i]]])));
function arrow(x,y1,y2){
  G.push({type:'line', silent:true, shape:{x1:x,y1:y1,x2:x,y2:y2-9}, style:{stroke:'#000', lineWidth:2.2}});
  G.push({type:'polygon', silent:true, shape:{points:[[x-5,y2-11],[x+5,y2-11],[x,y2]]}, style:{fill:'#000'}});
}
arrow(89.5,31,298);
arrow(87,491,757);
push(runs(194,58,[['B',17,'i'],['2g',12,'n',5],[' (xz)',17,'n']]));
push(runs(194,93,[['Above ',17,'n'],['T',17,'i'],['C',12,'n',5]]));
push(runs(194,515,[['B',17,'i'],['2g',12,'n',5],[' (xz)',17,'n']]));
push(runs(194,550,[['Below ',17,'n'],['T',17,'i'],['C',12,'n',5]]));
push(runs(578,73,[['546 K',16.5,'n']]));
push(runs(578,531,[['326 K',16.5,'n']]));
G.push(rot(12,220,[['χ″/',17,'n'],['ω',17,'i'],[' (arb. units)',17,'n']]));
G.push(rot(12,676,[['χ″/',17,'n'],['ω',17,'i'],[' (arb. units)',17,'n']]));
push(runs(358,933,[['Energy (cm',17,'n'],['−1',11,'n',-6],[')',17,'n']],'center'));
push(runs(125,1207,[['Temperature (K)',17,'n']],'center'));
push(runs(356,1207,[['Temperature (K)',17,'n']],'center'));
push(runs(589,1207,[['Temperature (K)',17,'n']],'center'));
G.push(rot(13,1064,[['χ',17,'i'],[' (arb. units)',17,'n']]));
G.push(rot(245,1065,[['χ',17,'i'],['−1',11,'n',-6],[' (arb. units)',17,'n']]));
G.push(rot(477,1064,[['A',17,'n'],['−1',11,'n',-6],[' (arb. units)',17,'n']]));
G.push({type:'circle', silent:true, shape:{cx:150, cy:998, r:2.6}, style:{fill:'#fff', stroke:'#000', lineWidth:1.1}});
push(runs(161,998,[['B',17,'i'],['2g',12,'n',5]]));
G.push({type:'polygon', silent:true, shape:{points:[[150,1034],[154,1038.5],[150,1043],[146,1038.5]]}, style:{fill:'#fff', stroke:'#000', lineWidth:1.2}});
push(runs(161,1038,[['A',17,'i'],['g',12,'n',5]]));
push(runs(311,1006,[['T',17,'i',0,'#e8201c'],['W',12,'n',5,'#e8201c']]));
push(runs(353,1006,[['T',17,'i'],['C',12,'n',5]]));
push(runs(545,1005,[['T',17,'i',0,'#e8201c'],['W',12,'n',5,'#e8201c']]));
push(runs(584,1005,[['T',17,'i'],['C',12,'n',5]]));

chart.setOption({
  animation:false, backgroundColor:'#fff',
  textStyle:{fontFamily:FF},
  grid:grids, xAxis:xAxes, yAxis:yAxes, series:series,
  graphic:{elements:G}
});

const bad = [];
specA.forEach((a,i)=>{ if(a.length!==energyA.length) bad.push('A'+tempsA[i]+':'+a.length); });
specB.forEach((a,i)=>{ if(a.length!==energyB.length) bad.push('B'+tempsB[i]+':'+a.length); });
[[cTemps,cB2g],[cTemps,cB2gErr],[cTemps,cAg],[cFitT,cFitV],[dTemps,dVals],[dTemps,dErr],[eTemps,eVals],[eTemps,eErr],[eTemps,eXErr],[insA_E,insA_total],[insA_blueE,insA_blue],[insB_E,insB_total],[insB_redE,insB_red],[insB_blueE,insB_blue]].forEach((p,i)=>{ if(p[0].length!==p[1].length) bad.push('pair'+i+':'+p[0].length+'/'+p[1].length); });
if (bad.length) throw new Error('Length mismatch: '+bad.join(', ')+' energyA='+energyA.length+' energyB='+energyB.length);
</script></body></html>
